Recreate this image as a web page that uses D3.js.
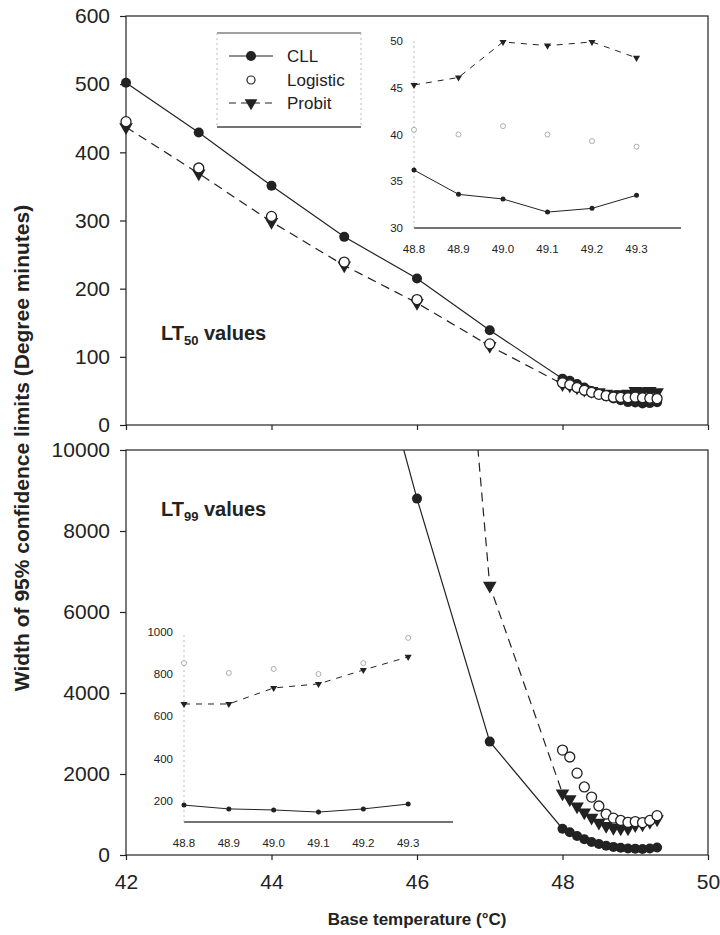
<!DOCTYPE html>
<html>
<head>
<meta charset="utf-8">
<script src="https://cdn.jsdelivr.net/npm/d3@7"></script>
<style>
body { margin: 0; background: #fff; }
svg text { font-family: "Liberation Sans", Arial, sans-serif; fill: #222; }
.axis text { font-size: 21px; }
.axis path, .axis line { stroke: #222; stroke-width: 1.2; }
.inset text { font-size: 11.5px; }
.title { font-weight: bold; }
</style>
</head>
<body>
<script>
// base temperatures (deg C)
var temps = [42, 43, 44, 45, 46, 47, 48.0, 48.1, 48.2, 48.3, 48.4, 48.5, 48.6, 48.7, 48.8, 48.9, 49.0, 49.1, 49.2, 49.3];

// LT50 width of 95% CL (degree minutes)
var lt50CLL      = [502, 429, 351, 276, 215, 139, 68, 65, 60, 55, 50, 46, 42, 39, 36.2, 33.6, 33.1, 31.7, 32.1, 33.5];
var lt50Logistic = [445, 377, 306, 239, 184, 119, 62, 59, 55, 51, 48, 45, 43, 41, 40.5, 40.0, 40.9, 40.0, 39.3, 38.7];
var lt50Probit   = [437, 369, 298, 234, 179, 116, 60, 58, 55, 52, 50, 48, 46, 45, 45.3, 46.1, 49.9, 49.5, 49.9, 48.2];

// LT99 width of 95% CL (null = off the chart, not readable)
var lt99CLL      = [null, null, null, 15400, 8800, 2800, 650, 560, 470, 390, 320, 270, 230, 200, 180, 162, 157, 147, 162, 185];
var lt99Logistic = [null, null, null, null, null, null, 2590, 2420, 2020, 1680, 1430, 1210, 1010, 910, 853, 806, 825, 801, 853, 972];
var lt99Probit   = [null, null, null, null, 27400, 6650, 1520, 1380, 1200, 1050, 920, 800, 720, 670, 659, 659, 735, 754, 820, 882];

var xTicks = [42, 44, 46, 48, 50];
var topTicks = [0, 100, 200, 300, 400, 500, 600];
var bottomTicks = [0, 2000, 4000, 6000, 8000, 10000];
var insetXTicks = [48.8, 48.9, 49.0, 49.1, 49.2, 49.3];
var insetTopTicks = [30, 35, 40, 45, 50];
var insetBottomTicks = [200, 400, 600, 800, 1000];

var seriesNames = ["CLL", "Logistic", "Probit"];

var svg = d3.select("body").append("svg")
    .attr("width", 720)
    .attr("height", 935);

var left = 126, right = 708;
var x = d3.scaleLinear().domain([42, 50]).range([left, right]);
var yTop = d3.scaleLinear().domain([0, 600]).range([425, 16]);
var yBot = d3.scaleLinear().domain([0, 10000]).range([855, 450]);

function rows(ys) {
    return temps.map(function(t, i) { return {t: t, v: ys[i]}; })
        .filter(function(d) { return d.v != null; });
}

var triSym = d3.symbol().type(d3.symbolTriangle);

function drawSet(g, xs, ys, cll, logi, prob, opt) {
    var line = d3.line()
        .x(function(d) { return xs(d.t); })
        .y(function(d) { return ys(d.v); });
    g.append("path")
        .attr("d", line(prob))
        .attr("fill", "none")
        .attr("stroke", "#222")
        .attr("stroke-width", opt.lw)
        .attr("stroke-dasharray", opt.dash);
    g.append("path")
        .attr("d", line(cll))
        .attr("fill", "none")
        .attr("stroke", "#222")
        .attr("stroke-width", opt.lw);
    g.selectAll(".tri").data(prob).enter().append("path")
        .attr("d", triSym.size(opt.tri)())
        .attr("transform", function(d) { return "translate(" + xs(d.t) + "," + ys(d.v) + ") rotate(180)"; })
        .attr("fill", "#222");
    g.selectAll(".dot").data(cll).enter().append("circle")
        .attr("cx", function(d) { return xs(d.t); })
        .attr("cy", function(d) { return ys(d.v); })
        .attr("r", opt.r)
        .attr("fill", "#222");
    g.selectAll(".open").data(logi).enter().append("circle")
        .attr("cx", function(d) { return xs(d.t); })
        .attr("cy", function(d) { return ys(d.v); })
        .attr("r", opt.r)
        .attr("fill", "#fff")
        .attr("stroke", opt.openStroke)
        .attr("stroke-width", opt.openW);
}

// ---------------- frames & axes ----------------
function frame(ys) {
    svg.append("rect")
        .attr("x", left).attr("y", ys.range()[1])
        .attr("width", right - left)
        .attr("height", ys.range()[0] - ys.range()[1])
        .attr("fill", "none")
        .attr("stroke", "#222")
        .attr("stroke-width", 1.2);
}
frame(yTop);
frame(yBot);

svg.append("g").attr("class", "axis")
    .attr("transform", "translate(" + left + ",0)")
    .call(d3.axisLeft(yTop).tickValues(topTicks).tickSize(6).tickPadding(10).tickSizeOuter(0));
svg.append("g").attr("class", "axis")
    .attr("transform", "translate(" + left + ",0)")
    .call(d3.axisLeft(yBot).tickValues(bottomTicks).tickFormat(d3.format("d"))
        .tickSize(6).tickPadding(10).tickSizeOuter(0));
svg.append("g").attr("class", "axis")
    .attr("transform", "translate(0,425)")
    .call(d3.axisBottom(x).tickValues(xTicks).tickSize(5).tickFormat("").tickSizeOuter(0));
svg.append("g").attr("class", "axis")
    .attr("transform", "translate(0,855)")
    .call(d3.axisBottom(x).tickValues(xTicks).tickSize(5).tickPadding(14).tickSizeOuter(0));
svg.selectAll(".axis .domain").remove();

// ---------------- main data ----------------
svg.append("defs").append("clipPath").attr("id", "clipBot")
    .append("rect").attr("x", left).attr("y", 450).attr("width", right - left).attr("height", 405);

var mainOpt = {lw: 1.2, dash: "9,6", r: 5, tri: 80, openStroke: "#222", openW: 1.3};
drawSet(svg.append("g"), x, yTop, rows(lt50CLL), rows(lt50Logistic), rows(lt50Probit), mainOpt);
drawSet(svg.append("g").attr("clip-path", "url(#clipBot)"), x, yBot,
    rows(lt99CLL), rows(lt99Logistic), rows(lt99Probit), mainOpt);

// ---------------- insets ----------------
function lastSix(ys) { return rows(ys).filter(function(d) { return d.t >= 48.75; }); }

function inset(xr, yDom, yr, ticks, data) {
    var xs = d3.scaleLinear().domain([48.8, 49.4]).range(xr);
    var ys = d3.scaleLinear().domain(yDom).range(yr);
    var g = svg.append("g").attr("class", "inset");
    g.append("line")
        .attr("x1", xr[0]).attr("x2", xr[1])
        .attr("y1", yr[0]).attr("y2", yr[0])
        .attr("stroke", "#444").attr("stroke-width", 1.3);
    g.append("line")
        .attr("x1", xr[0]).attr("x2", xr[0])
        .attr("y1", yr[0]).attr("y2", yr[1])
        .attr("stroke", "#bbb").attr("stroke-width", 1).attr("stroke-dasharray", "2,3");
    g.selectAll(".xl").data(insetXTicks).enter().append("text")
        .attr("x", function(d) { return xs(d); })
        .attr("y", yr[0] + 25)
        .attr("text-anchor", "middle")
        .text(function(d) { return d.toFixed(1); });
    g.selectAll(".yl").data(ticks).enter().append("text")
        .attr("x", xr[0] - 11)
        .attr("y", function(d) { return ys(d); })
        .attr("dy", "0.35em")
        .attr("text-anchor", "end")
        .text(function(d) { return d; });
    drawSet(g.append("g"), xs, ys, lastSix(data[0]), lastSix(data[1]), lastSix(data[2]),
        {lw: 1, dash: "6,6", r: 2.5, tri: 22, openStroke: "#999", openW: 0.8});
}
inset([414, 681], [30, 50], [228, 41], insetTopTicks, [lt50CLL, lt50Logistic, lt50Probit]);
inset([184, 453], [100, 1000], [822, 632], insetBottomTicks, [lt99CLL, lt99Logistic, lt99Probit]);

// ---------------- legend ----------------
var lg = svg.append("g");
lg.append("line").attr("x1", 217).attr("x2", 361).attr("y1", 33).attr("y2", 33).attr("stroke", "#444");
lg.append("line").attr("x1", 217).attr("x2", 361).attr("y1", 127).attr("y2", 127).attr("stroke", "#444").attr("stroke-width", 1.3);
lg.append("line").attr("x1", 217).attr("x2", 217).attr("y1", 33).attr("y2", 127).attr("stroke", "#bbb").attr("stroke-dasharray", "2,3");
lg.append("line").attr("x1", 361).attr("x2", 361).attr("y1", 33).attr("y2", 127).attr("stroke", "#bbb").attr("stroke-dasharray", "2,3");
var legY = [56, 80, 103];
lg.append("line").attr("x1", 229).attr("x2", 273).attr("y1", legY[0]).attr("y2", legY[0]).attr("stroke", "#222").attr("stroke-width", 1.2);
lg.append("circle").attr("cx", 251).attr("cy", legY[0]).attr("r", 5).attr("fill", "#222");
lg.append("circle").attr("cx", 251).attr("cy", legY[1]).attr("r", 4).attr("fill", "#fff").attr("stroke", "#222").attr("stroke-width", 1.2);
lg.append("line").attr("x1", 229).attr("x2", 273).attr("y1", legY[2]).attr("y2", legY[2]).attr("stroke", "#222").attr("stroke-width", 1.2).attr("stroke-dasharray", "7,5");
lg.append("path").attr("d", triSym.size(70)()).attr("transform", "translate(251," + legY[2] + ") rotate(180)").attr("fill", "#222");
lg.selectAll(".lt").data(seriesNames).enter().append("text")
    .attr("x", 287)
    .attr("y", function(d, i) { return legY[i]; })
    .attr("dy", "0.35em")
    .style("font-size", "17px")
    .text(function(d) { return d; });

// ---------------- panel labels & titles ----------------
function ltLabel(y, sub) {
    var t = svg.append("text").attr("x", 161).attr("y", y)
        .style("font-weight", "bold").style("font-size", "20px");
    t.append("tspan").text("LT");
    t.append("tspan").attr("dy", 5).style("font-size", "13px").text(sub);
    t.append("tspan").attr("dy", -5).text(" values");
}
ltLabel(340, "50");
ltLabel(516, "99");

svg.append("text").attr("class", "title")
    .attr("transform", "translate(29,448) rotate(-90)")
    .attr("text-anchor", "middle")
    .style("font-size", "21px")
    .text("Width of 95% confidence limits (Degree minutes)");

svg.append("text").attr("class", "title")
    .attr("x", 417).attr("y", 925)
    .attr("text-anchor", "middle")
    .style("font-size", "17px")
    .text("Base temperature (°C)");
</script>
</body>
</html>
